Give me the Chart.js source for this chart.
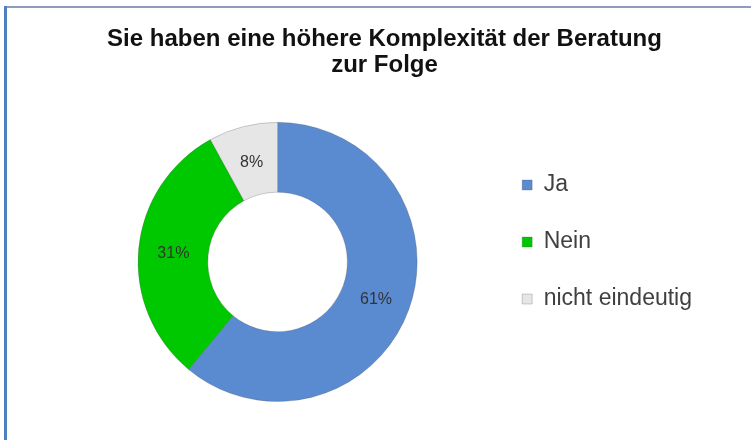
<!DOCTYPE html>
<html>
<head>
<meta charset="utf-8">
<script src="https://cdn.jsdelivr.net/npm/chart.js@4.4.1/dist/chart.umd.min.js"></script>
<style>
  body { margin: 0; background: #fff; }
  #box { position: relative; width: 751px; height: 440px; overflow: hidden; }
  #rand-oben { position: absolute; left: 4px; top: 6px; right: 0; height: 2px; background: #8d9dbd; }
  #rand-links { position: absolute; left: 4px; top: 6px; bottom: 0; width: 3px; background: #4f80c0; }
</style>
</head>
<body>
<div id="box">
  <canvas id="chart" width="751" height="440"></canvas>
  <div id="rand-oben"></div>
  <div id="rand-links"></div>
</div>
<script>
// Daten
const titelZeilen = ["Sie haben eine höhere Komplexität der Beratung", "zur Folge"];
const kategorien = ["Ja", "Nein", "nicht eindeutig"];
const anteile = [61, 31, 8];

// Prozentwerte mitten in den Ring schreiben
const prozentLabels = {
  id: "prozentLabels",
  afterDatasetsDraw(chart) {
    const ctx = chart.ctx;
    const meta = chart.getDatasetMeta(0);
    ctx.save();
    ctx.font = "16px 'Liberation Sans', Arial, sans-serif";
    ctx.fillStyle = "#333";
    ctx.textAlign = "center";
    ctx.textBaseline = "middle";
    meta.data.forEach((arc, i) => {
      const p = arc.tooltipPosition();
      ctx.fillText(anteile[i] + "%", p.x, p.y + 2);
    });
    ctx.restore();
  },
};

new Chart(document.getElementById("chart"), {
  type: "doughnut",
  data: {
    labels: kategorien,
    datasets: [
      {
        data: anteile,
        backgroundColor: ["#5a8bd1", "#00c800", "#e6e6e6"],
        borderColor: "rgba(70, 70, 70, 0.25)",
        borderWidth: 1,
      },
    ],
  },
  options: {
    responsive: false,
    animation: false,
    devicePixelRatio: 1,
    events: [],
    cutout: "50%",
    layout: {
      padding: { left: 67, right: 49, top: 0, bottom: 38 },
    },
    plugins: {
      tooltip: { enabled: false },
      title: {
        display: true,
        text: titelZeilen,
        color: "#111",
        font: { family: "'Liberation Sans', Arial, sans-serif", size: 24, weight: "bold", lineHeight: 1.08 },
        padding: { top: 26, bottom: 44 },
      },
      legend: {
        position: "right",
        align: "start",
        title: {
          display: true,
          text: " ",
          font: { size: 10, lineHeight: 1.2 },
          padding: { top: 127.5, bottom: 0 },
        },
        labels: {
          color: "#404040",
          boxWidth: 10,
          boxHeight: 10,
          padding: 34,
          font: { family: "'Liberation Sans', Arial, sans-serif", size: 23 },
        },
      },
    },
  },
  plugins: [prozentLabels],
});
</script>
</body>
</html>
